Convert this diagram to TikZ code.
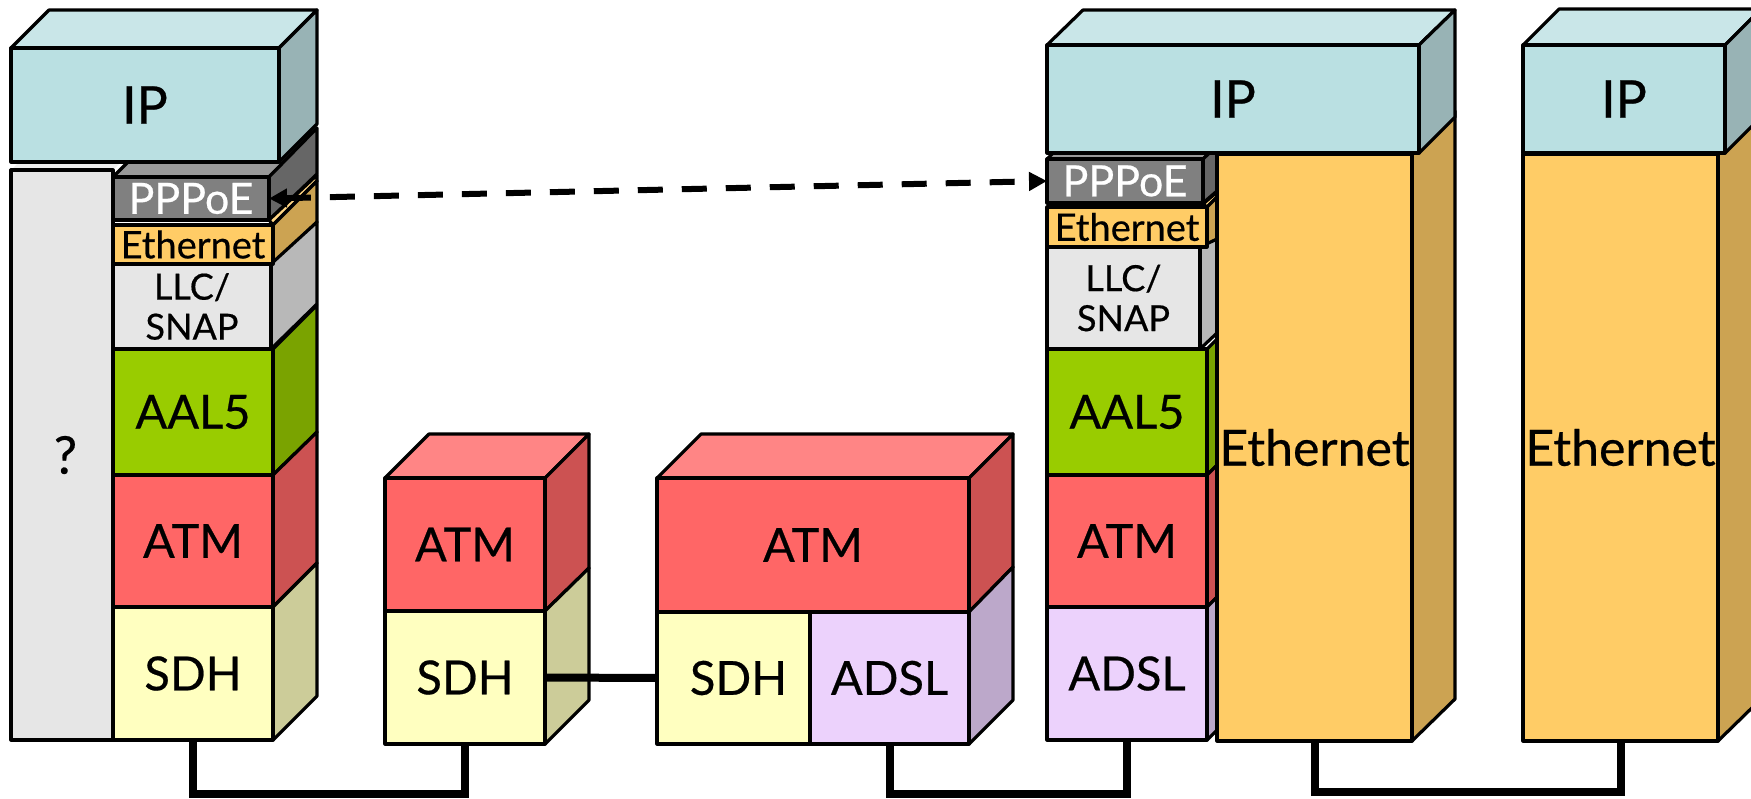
\documentclass[tikz,border=0pt]{standalone}
\usepackage{fontspec}
\setmainfont[FakeBold=0.5]{Lato}
\usetikzlibrary{arrows.meta}
\definecolor{ipF}{HTML}{BAE0E2}\definecolor{ipT}{HTML}{C9E6E8}\definecolor{ipS}{HTML}{98B3B5}
\definecolor{ppF}{HTML}{808080}\definecolor{ppT}{HTML}{999999}\definecolor{ppS}{HTML}{666666}
\definecolor{etF}{HTML}{FFCC66}\definecolor{etT}{HTML}{FFD685}\definecolor{etS}{HTML}{CCA352}
\definecolor{llF}{HTML}{E6E6E6}\definecolor{llT}{HTML}{EEEEEE}\definecolor{llS}{HTML}{B8B8B8}
\definecolor{aaF}{HTML}{99CC00}\definecolor{aaS}{HTML}{7AA300}
\definecolor{atF}{HTML}{FF6666}\definecolor{atT}{HTML}{FF8585}\definecolor{atS}{HTML}{CC5252}
\definecolor{sdF}{HTML}{FFFFC0}\definecolor{sdS}{HTML}{CCCC99}
\definecolor{adF}{HTML}{ECD2FC}\definecolor{adS}{HTML}{BCA8CA}
\newcommand\fnt[1]{\fontsize{#1}{40}\selectfont}
% \lay{name}{fill}{x1}{y1}{x2}{y2}{font size}{text}
\newcommand\lay[8]{\node[front,fill=#2,minimum width={(#5-#3)*1pt},minimum height={(#6-#4)*1pt},font=\fnt{#7}] (#1) at ({(#3+#5)/2},{(#4+#6)/2}) {#8};}
\tikzset{
  x=1pt,y=-1pt,
  front/.style={draw=black,line width=3.2pt,inner sep=0pt,outer sep=0pt,align=center,line join=round},
  face/.style={draw=black,line width=3.2pt,line join=round},
  link/.style={draw=black,line width=8pt,line join=miter},
  dasharrow/.style={draw=black,line width=6pt,dash pattern=on 25pt off 19pt,{Triangle[length=18pt,width=18pt]}-{Triangle[length=18pt,width=18pt]}}
}
\begin{document}
\begin{tikzpicture}
\useasboundingbox (0,0) rectangle (1751,798);
\clip (0,0) rectangle (1751,798);
% --- first stack ---
\draw[face,draw=none,fill=llT] (11,170) -- (55,126) -- (157,126) -- (113,170) -- cycle;
\lay{colA}{llF}{11}{170}{113}{740}{52}{\hspace*{7pt}?}
\draw[face,fill=ppT] (113,177) -- (157,133) -- (313,133) -- (269,177) -- cycle;
\draw[face,fill=ppS] (269,177) -- (317,128) -- (317,174) -- (269,220) -- cycle;
\draw[face,fill=etT] (269,220) -- (317,175) -- (317,181) -- (273,225) -- cycle;
\draw[face,fill=etS] (273,225) -- (317,181) -- (317,222) -- (273,264) -- cycle;
\draw[face,fill=llS] (271,349) -- (317,304) -- (317,222) -- (271,264) -- cycle;
\draw[face,fill=aaS] (273,349) -- (317,305) -- (317,432) -- (273,475) -- cycle;
\draw[face,fill=atS] (273,475) -- (317,432) -- (317,563) -- (273,607) -- cycle;
\draw[face,fill=sdS] (273,607) -- (317,563) -- (317,696) -- (273,740) -- cycle;
\lay{pppoeA}{ppF}{113}{177}{269}{220}{43}{\color{white}PPPoE}
\lay{ethA}{etF}{113}{225}{273}{264}{38}{Ethernet}
\lay{llcA}{llF}{113}{264}{271}{349}{36}{LLC/\\SNAP}
\lay{aalA}{aaF}{113}{349}{273}{475}{47}{AAL5}
\lay{atmA}{atF}{113}{475}{273}{607}{47}{ATM}
\lay{sdhA}{sdF}{113}{607}{273}{740}{47}{SDH}
\draw[face,fill=ipT] (11,48) -- (49,10) -- (317,10) -- (279,48) -- cycle;
\draw[face,fill=ipS] (279,48) -- (317,10) -- (317,124) -- (279,162) -- cycle;
\lay{ipA}{ipF}{11}{48}{279}{162}{52}{IP}
% --- second stack ---
\draw[face,fill=atT] (385,478) -- (429,434) -- (589,434) -- (545,478) -- cycle;
\draw[face,fill=atS] (545,478) -- (589,434) -- (589,568) -- (545,611) -- cycle;
\draw[face,fill=sdS] (545,611) -- (589,568) -- (589,700) -- (545,744) -- cycle;
\lay{atmB}{atF}{385}{478}{545}{611}{47}{ATM}
\lay{sdhB}{sdF}{385}{611}{545}{744}{47}{SDH}
% --- third stack ---
\draw[face,fill=atT] (657,478) -- (701,434) -- (1013,434) -- (969,478) -- cycle;
\draw[face,fill=atS] (969,478) -- (1013,434) -- (1013,567) -- (969,612) -- cycle;
\draw[face,fill=adS] (969,612) -- (1013,567) -- (1013,700) -- (969,744) -- cycle;
\lay{atmC}{atF}{657}{478}{969}{612}{47}{ATM}
\lay{sdhC}{sdF}{657}{612}{810}{744}{47}{\hspace*{10pt}SDH}
\lay{adslC}{adF}{810}{612}{969}{744}{47}{ADSL}
% --- fourth stack ---
\draw[face,fill=ppT] (1047,159) -- (1060,146) -- (1216,146) -- (1203,159) -- cycle;
\draw[face,fill=ppS] (1203,159) -- (1217,146) -- (1217,191) -- (1203,203) -- cycle;
\draw[face,fill=etT] (1203,204) -- (1217,192) -- (1217,197) -- (1207,207) -- cycle;
\draw[face,fill=etS] (1207,207) -- (1217,197) -- (1217,239) -- (1207,247) -- cycle;
\draw[face,fill=llS] (1200,247) -- (1217,239) -- (1217,333) -- (1200,349) -- cycle;
\draw[face,fill=aaS] (1207,349) -- (1217,339) -- (1217,465) -- (1207,475) -- cycle;
\draw[face,fill=atS] (1207,475) -- (1217,465) -- (1217,597) -- (1207,607) -- cycle;
\draw[face,fill=adS] (1207,607) -- (1217,597) -- (1217,730) -- (1207,740) -- cycle;
\lay{pppoeB}{ppF}{1047}{159}{1203}{203}{43}{\color{white}PPPoE}
\lay{ethB}{etF}{1047}{207}{1207}{247}{38}{Ethernet}
\lay{llcB}{llF}{1047}{247}{1200}{349}{36}{LLC/\\SNAP}
\lay{aalB}{aaF}{1047}{349}{1207}{475}{47}{AAL5}
\lay{atmD}{atF}{1047}{475}{1207}{607}{47}{ATM}
\lay{adslD}{adF}{1047}{607}{1207}{740}{47}{ADSL}
\draw[face,fill=etS] (1412,154) -- (1455,111) -- (1455,699) -- (1412,741) -- cycle;
\lay{ethBig}{etF}{1217}{154}{1412}{741}{50}{Ethernet}
\draw[face,fill=ipT] (1047,45) -- (1083,10) -- (1455,10) -- (1419,45) -- cycle;
\draw[face,fill=ipS] (1419,45) -- (1455,10) -- (1455,117) -- (1419,153) -- cycle;
\lay{ipD}{ipF}{1047}{45}{1419}{153}{52}{IP}
% --- fifth stack ---
\draw[face,fill=etS] (1718,154) -- (1761,111) -- (1761,699) -- (1718,741) -- cycle;
\lay{ethE}{etF}{1523}{154}{1718}{741}{50}{Ethernet}
\draw[face,fill=ipT] (1523,45) -- (1559,9) -- (1761,9) -- (1725,45) -- cycle;
\draw[face,fill=ipS] (1725,45) -- (1761,9) -- (1761,117) -- (1725,153) -- cycle;
\lay{ipE}{ipF}{1523}{45}{1725}{153}{52}{IP}
% --- connectors ---
\coordinate (c1) at (329,794);
\coordinate (c2) at (1008,794);
\coordinate (c3) at (1467,792);
\draw[link] (sdhA.south) |- (c1) -| (sdhB.south);
\draw[link] (adslC.south) |- (c2) -| (adslD.south);
\draw[link] (ethBig.south) |- (c3) -| (ethE.south);
\draw[link] (sdhB.east) -- (sdhC.west);
\draw[dasharrow] (pppoeA.east) -- (pppoeB.west);
\end{tikzpicture}
\end{document}
